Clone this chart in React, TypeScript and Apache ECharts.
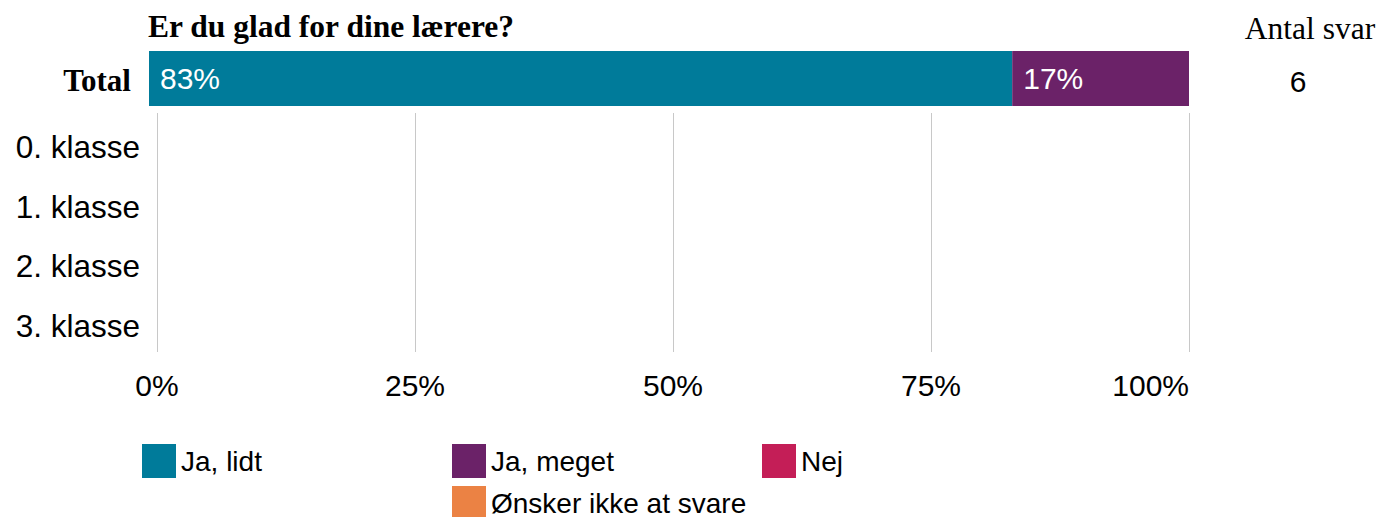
import React, { useEffect, useRef } from "react";
import * as echarts from "echarts";

const title = "Er du glad for dine lærere?";
const answers = ["Ja, lidt", "Ja, meget", "Nej", "Ønsker ikke at svare"];
const colors = ["#007B9A", "#6B2268", "#C41E57", "#EB8244"];
const totalLabel = ["Total"];
const totalValues = [83, 17, 0, 0];
const classes = ["0. klasse", "1. klasse", "2. klasse", "3. klasse"];
// no responses for individual classes
const classValues: (number | null)[][] = [
  [null, null, null, null],
  [null, null, null, null],
  [null, null, null, null],
  [null, null, null, null],
];
const xTicks = [0, 25, 50, 75, 100];
const countHeader = "Antal svar";
const totalCount = 6;

const legendPos = [
  { left: 142, top: 444 },
  { left: 452, top: 444 },
  { left: 762, top: 444 },
  { left: 452, top: 486 },
];

export default function App() {
  const ref = useRef<HTMLDivElement>(null);
  useEffect(() => {
    if (!ref.current) return;
    const chart = echarts.init(ref.current, null, { renderer: "svg" });
    const labelFmt = (p: any) => (p.value > 0 ? `${p.value}%` : "");
    const series: any[] = [];
    answers.forEach((name, i) => {
      series.push({
        type: "bar",
        name,
        xAxisIndex: 0,
        yAxisIndex: 0,
        stack: "total",
        barWidth: "100%",
        itemStyle: { color: colors[i] },
        label: {
          show: true,
          position: "insideLeft",
          distance: 11,
          color: "#fff",
          fontSize: 30,
          fontFamily: "Liberation Sans, Arial, sans-serif",
          formatter: labelFmt,
          padding: [4, 0, 0, 0],
        },
        data: [totalValues[i]],
      });
      series.push({
        type: "bar",
        name,
        xAxisIndex: 1,
        yAxisIndex: 1,
        stack: "klasse",
        barWidth: "80%",
        itemStyle: { color: colors[i] },
        label: {
          show: true,
          position: "insideLeft",
          color: "#fff",
          fontSize: 30,
          formatter: labelFmt,
        },
        data: classValues[i],
      });
    });

    chart.setOption({
      animation: false,
      title: {
        text: title,
        left: 148,
        top: 10,
        padding: 0,
        textStyle: {
          fontFamily: "Liberation Serif, Times New Roman, serif",
          fontWeight: "bold",
          fontSize: 31.5,
          color: "#000",
        },
      },
      grid: [
        { left: 149, right: 191, top: 51, height: 55, containLabel: false },
        { left: 157, right: 191, top: 113, height: 239, containLabel: false },
      ],
      xAxis: [
        { type: "value", gridIndex: 0, min: 0, max: 100, show: false },
        {
          type: "value",
          gridIndex: 1,
          min: 0,
          max: 100,
          interval: 25,
          axisLine: { show: false },
          axisTick: { show: false },
          splitLine: { show: true, lineStyle: { color: "#c8c8c8", width: 1 } },
          axisLabel: {
            formatter: (v: number) => (xTicks.includes(v) ? `${v}%` : ""),
            fontSize: 30,
            color: "#000",
            margin: 18,
            fontFamily: "Liberation Sans, Arial, sans-serif",
            alignMaxLabel: "right",
          },
        },
      ],
      yAxis: [
        {
          type: "category",
          gridIndex: 0,
          data: totalLabel,
          axisLine: { show: false },
          axisTick: { show: false },
          axisLabel: {
            fontFamily: "Liberation Serif, Times New Roman, serif",
            fontWeight: "bold",
            fontSize: 31,
            color: "#000",
            margin: 18,
            formatter: "{t|{value}}",
            rich: {
              t: {
                fontFamily: "Liberation Serif, Times New Roman, serif",
                fontWeight: "bold",
                fontSize: 31,
                color: "#000",
                padding: [4, 0, 0, 0],
              },
            },
          },
        },
        {
          type: "category",
          gridIndex: 1,
          inverse: true,
          data: classes,
          axisLine: { show: false },
          axisTick: { show: false },
          splitLine: { show: false },
          axisLabel: {
            fontFamily: "Liberation Sans, Arial, sans-serif",
            fontSize: 31.5,
            color: "#000",
            margin: 17,
            formatter: "{c|{value}}",
            rich: {
              c: {
                fontFamily: "Liberation Sans, Arial, sans-serif",
                fontSize: 31.5,
                color: "#000",
                padding: [8, 0, 0, 0],
              },
            },
          },
        },
      ],
      legend: answers.map((name, i) => ({
        data: [name],
        left: legendPos[i].left,
        top: legendPos[i].top,
        icon: "rect",
        itemWidth: 34,
        itemHeight: 34,
        padding: 0,
        selectedMode: false,
        textStyle: {
          fontSize: 28,
          color: "#000",
          fontFamily: "Liberation Sans, Arial, sans-serif",
        },
      })),
      graphic: [
        {
          type: "text",
          x: 1310,
          y: 28,
          style: {
            text: countHeader,
            fontFamily: "Liberation Serif, Times New Roman, serif",
            fontSize: 31.5,
            fill: "#000",
            align: "center",
            verticalAlign: "middle",
          },
        },
        {
          type: "text",
          x: 1298,
          y: 81,
          style: {
            text: String(totalCount),
            fontFamily: "Liberation Sans, Arial, sans-serif",
            fontSize: 30,
            fill: "#000",
            align: "center",
            verticalAlign: "middle",
          },
        },
      ],
      series,
    });
    return () => chart.dispose();
  }, []);
  return (
    <div
      ref={ref}
      style={{ position: "fixed", left: 0, top: 0, width: 1380, height: 517, background: "#fff" }}
    />
  );
}
